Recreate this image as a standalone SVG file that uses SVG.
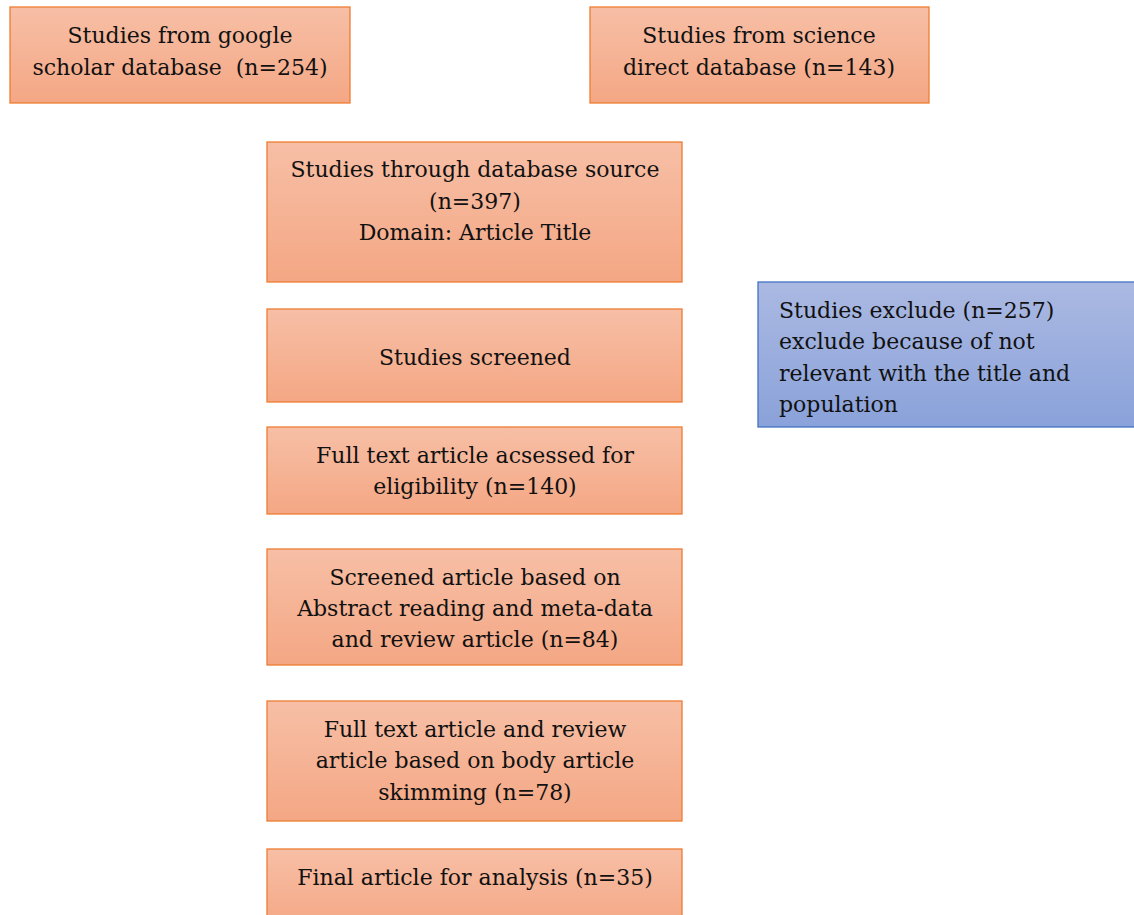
<svg xmlns="http://www.w3.org/2000/svg" width="1134" height="915" viewBox="0 0 1134 915">
<defs>
<linearGradient id="og" x1="0" y1="0" x2="0" y2="1"><stop offset="0" stop-color="#f7bfa6"/><stop offset="1" stop-color="#f4a784"/></linearGradient>
<linearGradient id="bg" x1="0" y1="0" x2="0" y2="1"><stop offset="0" stop-color="#abb9e2"/><stop offset="1" stop-color="#8aa2da"/></linearGradient>
</defs>
<style>
.o{fill:url(#og);stroke:#ed7d31;stroke-width:1.3}
.b{fill:url(#bg);stroke:#4472c4;stroke-width:1.3}
text{font-family:"DejaVu Serif","Liberation Serif",serif;font-size:22px;fill:#111}
.c{text-anchor:middle}
</style>
<rect width="1134" height="915" fill="#fff"/>
<g id="n1"><rect class="o" x="10" y="7" width="340" height="96"/>
<text class="c" x="180" y="43">Studies from google</text><text class="c" x="180" y="75">scholar database&#160; (n=254)</text></g>
<g id="n2"><rect class="o" x="590" y="7" width="339" height="96"/>
<text class="c" x="759" y="43">Studies from science</text><text class="c" x="759" y="75">direct database (n=143)</text></g>
<g id="n3"><rect class="o" x="267" y="142" width="415" height="140"/>
<text class="c" x="475" y="177">Studies through database source</text><text class="c" x="475" y="209">(n=397)</text><text class="c" x="475" y="240">Domain: Article Title</text></g>
<g id="n4"><rect class="o" x="267" y="309" width="415" height="93"/>
<text class="c" x="475" y="365">Studies screened</text></g>
<g id="n5"><rect class="o" x="267" y="427" width="415" height="87"/>
<text class="c" x="475" y="463">Full text article acsessed for</text><text class="c" x="475" y="494">eligibility (n=140)</text></g>
<g id="n6"><rect class="o" x="267" y="549" width="415" height="116"/>
<text class="c" x="475" y="585">Screened article based on</text><text class="c" x="475" y="616">Abstract reading and meta-data</text><text class="c" x="475" y="647">and review article (n=84)</text></g>
<g id="n7"><rect class="o" x="267" y="701" width="415" height="120"/>
<text class="c" x="475" y="737">Full text article and review</text><text class="c" x="475" y="768">article based on body article</text><text class="c" x="475" y="800">skimming (n=78)</text></g>
<g id="n8"><rect class="o" x="267" y="849" width="415" height="80"/>
<text class="c" x="475" y="885">Final article for analysis (n=35)</text></g>
<g id="n9"><rect class="b" x="758" y="282" width="390" height="145"/>
<text x="779" y="318">Studies exclude (n=257)</text><text x="779" y="349">exclude because of not</text><text x="779" y="381">relevant with the title and</text><text x="779" y="412">population</text></g>
<g id="connectors"></g>
</svg>
